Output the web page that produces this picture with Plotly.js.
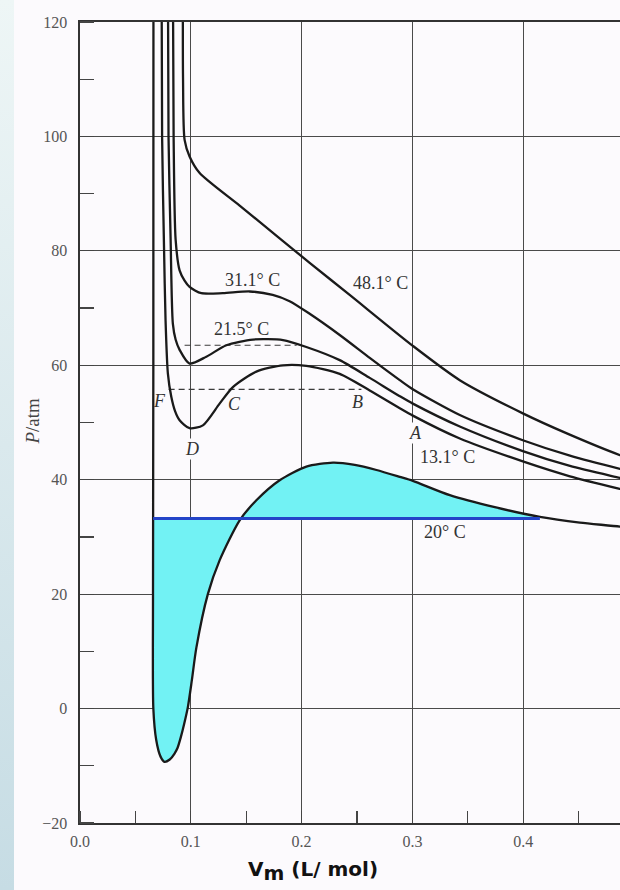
<!DOCTYPE html>
<html>
<head>
<meta charset="utf-8">
<script src="https://cdn.plot.ly/plotly-3.0.1.min.js"></script>
<style>
  html, body { margin: 0; padding: 0; background: #fcfafd; }
  #wrap { position: relative; width: 620px; height: 890px; }
  #strip { position: absolute; left: 0; top: 0; width: 14px; height: 890px;
           background: linear-gradient(to bottom, #eef6f6, #c6dce4); z-index: 2; }
  #chart { position: absolute; left: 0; top: 0; width: 620px; height: 890px; }
</style>
</head>
<body>
<div id="wrap">
  <div id="chart"></div>
  <div id="strip"></div>
</div>
<script>
// ---- data ----
// isotherm 48.1 °C
const v48 = [0.0929, 0.0930, 0.0944, 0.0989, 0.1080, 0.1441, 0.1802, 0.2073, 0.2434, 0.3004, 0.3428, 0.3997, 0.4394, 0.4874, 0.505];
const p48 = [130, 110, 99.4, 96.5, 93.6, 87.9, 82.2, 77.9, 72.3, 63.4, 57.4, 51.6, 48.1, 44.3, 43.2];
// isotherm 31.1 °C
const v31 = [0.0838, 0.0845, 0.0863, 0.0899, 0.0944, 0.0989, 0.1095, 0.1290, 0.1531, 0.1739, 0.1892, 0.2073, 0.2344, 0.2615, 0.2886, 0.3004, 0.3428, 0.3997, 0.4422, 0.4874, 0.505];
const p31 = [130, 100, 82, 76.6, 74.8, 73.7, 72.6, 72.6, 72.9, 72.3, 71.2, 69.0, 65.3, 61.3, 57.4, 55.8, 51.3, 46.9, 44.2, 41.9, 41.1];
// isotherm 21.5 °C
const v21 = [0.0793, 0.0799, 0.0818, 0.0838, 0.0863, 0.0899, 0.0989, 0.1140, 0.1321, 0.1561, 0.1832, 0.2043, 0.2344, 0.2615, 0.2886, 0.3004, 0.3428, 0.3997, 0.4422, 0.4874, 0.505];
const p21 = [130, 100, 82, 67.3, 64.5, 62.7, 60.3, 61.5, 63.5, 64.5, 64.4, 63.2, 60.9, 57.8, 54.6, 53.3, 49.3, 45.0, 42.4, 40.3, 39.5];
// isotherm 13.1 °C
const v13 = [0.0736, 0.0741, 0.0759, 0.0772, 0.0793, 0.0824, 0.0858, 0.0899, 0.0989, 0.1109, 0.1260, 0.1380, 0.1592, 0.1832, 0.2043, 0.2344, 0.2615, 0.2886, 0.3004, 0.3428, 0.3997, 0.4422, 0.4874, 0.505];
const p13 = [130, 100, 80, 68, 58.6, 54.5, 52.0, 50.4, 49.0, 49.5, 53.3, 56.2, 58.9, 60.0, 59.9, 58.5, 55.6, 52.5, 51.2, 47.2, 43.2, 40.6, 38.4, 37.6];
// isotherm 20 °C (filled loop)
const v20 = [0.0663, 0.0662, 0.0659, 0.0662, 0.0688, 0.0727, 0.0763, 0.0810, 0.0852, 0.0880, 0.0910, 0.0940, 0.0974, 0.1010, 0.1050, 0.1154, 0.1260, 0.1441, 0.1592, 0.1802, 0.2043, 0.2284, 0.2480, 0.2676, 0.2886, 0.3004, 0.3338, 0.3744, 0.4151, 0.4512, 0.4874, 0.505];
const p20 = [130, 60, 20, 0, -5.5, -8.4, -9.3, -8.9, -7.9, -6.9, -5.0, -2.7, 0.3, 5.0, 10.6, 20, 25.9, 32.9, 36.4, 39.9, 42.3, 43.0, 42.6, 41.7, 40.5, 39.8, 37.3, 35.2, 33.5, 32.5, 31.8, 31.3];
// equal-area line for 20 °C
const pLine20 = 33.2;
const vLine20 = [0.0660, 0.4151];
// dashed tie lines
const tie21v = [0.0944, 0.1956], tie21p = [63.5, 63.5];
const tie13v = [0.0800, 0.2540], tie13p = [55.8, 55.8];
// axis ticks
const xTicks = [0.0, 0.1, 0.2, 0.3, 0.4];
const xTickText = ['0.0', '0.1', '0.2', '0.3', '0.4'];
const yTicks = [-20, 0, 20, 40, 60, 80, 100, 120];
const yTickText = ['\u221220', '0', '20', '40', '60', '80', '100', '120'];

// ---- build fill polygon from the 20 °C curve and the line ----
const fx = [vLine20[0]], fy = [pLine20];
let started = false;
for (let i = 0; i < v20.length; i++) {
  if (!started && p20[i] < pLine20) started = true;
  if (started) {
    if (v20[i] >= vLine20[1]) break;
    fx.push(v20[i]); fy.push(p20[i]);
  }
}
fx.push(vLine20[1]); fy.push(pLine20);
fx.push(vLine20[0]); fy.push(pLine20);

const black = '#1a1a1a';
const curve = (x, y) => ({x, y, type: 'scatter', mode: 'lines', hoverinfo: 'skip',
  line: {color: black, width: 2.3, shape: 'spline', smoothing: 0.7}, showlegend: false});

const traces = [
  {x: fx, y: fy, type: 'scatter', mode: 'lines', fill: 'toself', fillcolor: '#72f2f4',
   line: {width: 0, color: 'rgba(0,0,0,0)'}, hoverinfo: 'skip', showlegend: false},
  {x: tie21v, y: tie21p, type: 'scatter', mode: 'lines', line: {color: '#3a3a3a', width: 1.2, dash: '6px,4px'}, showlegend: false},
  {x: tie13v, y: tie13p, type: 'scatter', mode: 'lines', line: {color: '#3a3a3a', width: 1.2, dash: '6px,4px'}, showlegend: false},
  curve(v48, p48), curve(v31, p31), curve(v21, p21), curve(v13, p13), curve(v20, p20),
  {x: vLine20, y: [pLine20, pLine20], type: 'scatter', mode: 'lines', line: {color: '#2444c8', width: 3}, showlegend: false}
];

const serif = 'Liberation Serif, Times New Roman, serif';
const lab = {family: serif, size: 18, color: '#333'};
const ann = (x, y, text, bg) => ({x, y, xref: 'x', yref: 'y', text, showarrow: false, font: lab,
  bgcolor: bg ? '#fcfafd' : 'rgba(0,0,0,0)', borderpad: 0});

const layout = {
  width: 620, height: 890,
  margin: {l: 80, r: 0, t: 22, b: 67},
  paper_bgcolor: '#fcfafd', plot_bgcolor: '#fcfafd',
  showlegend: false,
  xaxis: {
    range: [0, 0.4874], tickvals: xTicks, ticktext: xTickText,
    showgrid: true, gridcolor: '#4a4a4a', gridwidth: 1.1, zeroline: false,
    showline: true, linecolor: '#333', linewidth: 1.6, mirror: true,
    ticks: '', ticklabelstandoff: 3,
    tickfont: {family: serif, size: 16, color: '#555'},
    minor: {dtick: 0.05, tick0: 0, ticks: 'inside', ticklen: 12, tickcolor: '#444', tickwidth: 1.2, showgrid: false}
  },
  yaxis: {
    range: [-20, 120], tickvals: yTicks, ticktext: yTickText,
    showgrid: true, gridcolor: '#4a4a4a', gridwidth: 1.1, zeroline: false,
    showline: true, linecolor: '#333', linewidth: 1.6, mirror: false,
    ticks: '', ticklabelstandoff: 8,
    tickfont: {family: serif, size: 16, color: '#555'},
    minor: {dtick: 10, tick0: 0, ticks: 'inside', ticklen: 14, tickcolor: '#444', tickwidth: 1.2, showgrid: false}
  },
  annotations: [
    ann(0.1554, 74.9, '31.1° C'),
    ann(0.2710, 74.4, '48.1° C'),
    ann(0.1456, 66.3, '21.5° C'),
    ann(0.0718, 53.7, '<i>F</i>'),
    ann(0.1396, 53.2, '<i>C</i>'),
    ann(0.2507, 53.6, '<i>B</i>'),
    ann(0.1007, 45.35, '<i>D</i>', true),
    ann(0.3031, 48.1, '<i>A</i>', true),
    ann(0.3320, 44.0, '13.1° C'),
    ann(0.3293, 30.8, '20° C'),
    {xref: 'paper', yref: 'paper', x: -0.088, y: 0.5017, xanchor: 'center', yanchor: 'middle',
     textangle: -90, showarrow: false, text: '<i>P</i>/atm',
     font: {family: serif, size: 19, color: '#444'}},
    {xref: 'paper', yref: 'paper', x: 0.431, y: -0.060, xanchor: 'center', yanchor: 'middle',
     showarrow: false, text: '<b>V<sub><span style="font-size:20px">m</span></sub> (L/ mol)</b>',
     font: {family: 'DejaVu Sans, Verdana, sans-serif', size: 20, color: '#111'}}
  ]
};

Plotly.newPlot('chart', traces, layout, {staticPlot: true, displayModeBar: false});
</script>
</body>
</html>
